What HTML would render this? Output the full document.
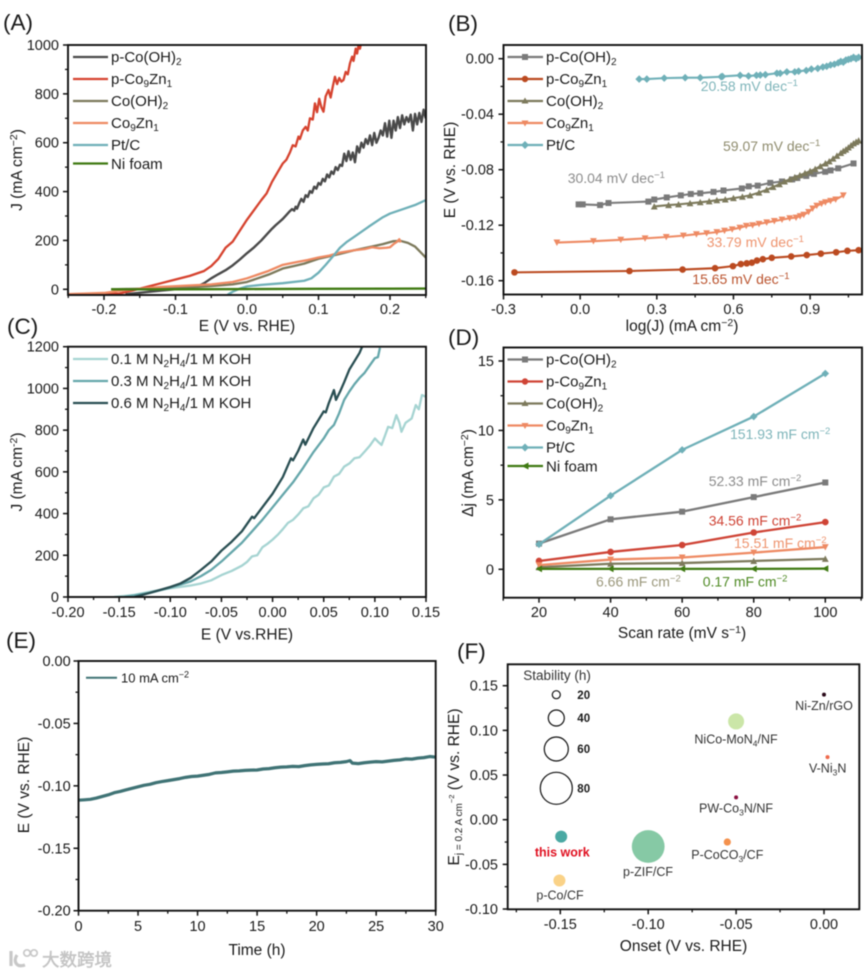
<!DOCTYPE html>
<html lang="en">
<head>
<meta charset="utf-8">
<title>Electrochemical performance panels</title>
<style>
html,body{margin:0;padding:0;background:#fff;width:865px;height:975px;overflow:hidden}
svg{display:block;filter:blur(.4px)}
text{font-family:"Liberation Sans","Noto Sans CJK SC",sans-serif;fill:#1a1a1a}
.tick{font-size:14.5px}
.title{font-size:15.5px}
.leg{font-size:15px}
.panel{font-size:22.5px}
.note{font-size:14px}
.fl{font-size:12.5px;fill:#333;text-anchor:middle}
</style>
</head>
<body>
<svg id="figure" xmlns="http://www.w3.org/2000/svg" width="865" height="975" viewBox="0 0 865 975">
<rect width="865" height="975" fill="#fff"/>
<defs>
<clipPath id="clipA"><rect x="68" y="45" width="358" height="250"/></clipPath>
<clipPath id="clipB"><rect x="503.5" y="45" width="358.5" height="249.5"/></clipPath>
<clipPath id="clipC"><rect x="68" y="346.5" width="358" height="250.5"/></clipPath>
<clipPath id="clipD"><rect x="503.5" y="347.5" width="358.5" height="250"/></clipPath>
<clipPath id="clipE"><rect x="78.5" y="661" width="357" height="249.5"/></clipPath>
<clipPath id="clipF"><rect x="507.5" y="664.5" width="352" height="245"/></clipPath>
</defs>

<text class="panel" x="3" y="30">(A)</text>
<text class="panel" x="448" y="31">(B)</text>
<text class="panel" x="7" y="334">(C)</text>
<text class="panel" x="448" y="345">(D)</text>
<text class="panel" x="6" y="648">(E)</text>
<text class="panel" x="457" y="659">(F)</text>

<!-- Panel A -->
<g id="panelA"></g>
<text class="title" x="247" y="331" text-anchor="middle">E (V vs. RHE)</text>
<text class="title" transform="translate(22,170) rotate(-90)" text-anchor="middle">J (mA cm<tspan dy="-5" font-size="10.5">−2</tspan><tspan dy="5">)</tspan></text>
<g>
<line x1="73" x2="108" y1="57" y2="57" stroke="#4a4a4a" stroke-width="2.2"/>
<text class="leg" x="111" y="62">p-Co(OH)<tspan dy="3" font-size="10">2</tspan></text>
<line x1="73" x2="108" y1="79" y2="79" stroke="#d6432f" stroke-width="2.2"/>
<text class="leg" x="111" y="84">p-Co<tspan dy="3" font-size="10">9</tspan><tspan dy="-3">Zn</tspan><tspan dy="3" font-size="10">1</tspan></text>
<line x1="73" x2="108" y1="101" y2="101" stroke="#7d7a5c" stroke-width="2.2"/>
<text class="leg" x="111" y="106">Co(OH)<tspan dy="3" font-size="10">2</tspan></text>
<line x1="73" x2="108" y1="123" y2="123" stroke="#ee8a63" stroke-width="2.2"/>
<text class="leg" x="111" y="128">Co<tspan dy="3" font-size="10">9</tspan><tspan dy="-3">Zn</tspan><tspan dy="3" font-size="10">1</tspan></text>
<line x1="73" x2="108" y1="145" y2="145" stroke="#6fb0b8" stroke-width="2.2"/>
<text class="leg" x="111" y="150">Pt/C</text>
<line x1="73" x2="108" y1="163.5" y2="163.5" stroke="#3f7a12" stroke-width="2.2"/>
<text class="leg" x="111" y="169">Ni foam</text>
</g>

<!-- Panel B -->
<g id="panelB"></g>
<text class="title" x="682" y="331" text-anchor="middle">log(J) (mA cm<tspan dy="-5" font-size="10.5">−2</tspan><tspan dy="5">)</tspan></text>
<text class="title" transform="translate(455,170) rotate(-90)" text-anchor="middle">E (V vs. RHE)</text>
<g>
<line x1="507.5" x2="543" y1="57" y2="57" stroke="#7a7a7a" stroke-width="2.2"/>
<rect x="522" y="54" width="6" height="6" fill="#7a7a7a"/>
<text class="leg" x="546" y="62">p-Co(OH)<tspan dy="3" font-size="10">2</tspan></text>
<line x1="507.5" x2="543" y1="79" y2="79" stroke="#bb4a20" stroke-width="2.2"/>
<circle cx="525" cy="79" r="3.2" fill="#bb4a20"/>
<text class="leg" x="546" y="84">p-Co<tspan dy="3" font-size="10">9</tspan><tspan dy="-3">Zn</tspan><tspan dy="3" font-size="10">1</tspan></text>
<line x1="507.5" x2="543" y1="101" y2="101" stroke="#7d7a5c" stroke-width="2.2"/>
<path d="M525 97.5L528.5 103.5H521.5Z" fill="#7d7a5c"/>
<text class="leg" x="546" y="106">Co(OH)<tspan dy="3" font-size="10">2</tspan></text>
<line x1="507.5" x2="543" y1="123" y2="123" stroke="#ee8a63" stroke-width="2.2"/>
<path d="M525 126.5L528.5 120.5H521.5Z" fill="#ee8a63"/>
<text class="leg" x="546" y="128">Co<tspan dy="3" font-size="10">9</tspan><tspan dy="-3">Zn</tspan><tspan dy="3" font-size="10">1</tspan></text>
<line x1="507.5" x2="543" y1="145" y2="145" stroke="#6fb0b8" stroke-width="2.2"/>
<path d="M525 141L529 145L525 149L521 145Z" fill="#6fb0b8"/>
<text class="leg" x="546" y="150">Pt/C</text>
</g>
<text class="note" style="fill:#7fb5ba" x="700.7" y="91">20.58 mV dec<tspan dy="-5" font-size="9.5" style="fill:#7fb5ba">−1</tspan></text>
<text class="note" style="fill:#8f8c6e" x="723" y="151">59.07 mV dec<tspan dy="-5" font-size="9.5" style="fill:#8f8c6e">−1</tspan></text>
<text class="note" style="fill:#8c8c8c" x="567.7" y="183">30.04 mV dec<tspan dy="-5" font-size="9.5" style="fill:#8c8c8c">−1</tspan></text>
<text class="note" style="fill:#ee946f" x="706.7" y="247">33.79 mV dec<tspan dy="-5" font-size="9.5" style="fill:#ee946f">−1</tspan></text>
<text class="note" style="fill:#bb5530" x="692.3" y="284">15.65 mV dec<tspan dy="-5" font-size="9.5" style="fill:#bb5530">−1</tspan></text>

<!-- Panel C -->
<g id="panelC"></g>
<text class="title" x="247" y="639.5" text-anchor="middle">E (V vs.RHE)</text>
<text class="title" transform="translate(22,472) rotate(-90)" text-anchor="middle">J (mA cm<tspan dy="-5" font-size="10.5">-2</tspan><tspan dy="5">)</tspan></text>
<g>
<line x1="73" x2="108" y1="359" y2="359" stroke="#a6d4d2" stroke-width="2.2"/>
<text class="leg" x="111" y="364">0.1 M N<tspan dy="3" font-size="10">2</tspan><tspan dy="-3">H</tspan><tspan dy="3" font-size="10">4</tspan><tspan dy="-3">/1 M KOH</tspan></text>
<line x1="73" x2="108" y1="381" y2="381" stroke="#66a7ab" stroke-width="2.2"/>
<text class="leg" x="111" y="386">0.3 M N<tspan dy="3" font-size="10">2</tspan><tspan dy="-3">H</tspan><tspan dy="3" font-size="10">4</tspan><tspan dy="-3">/1 M KOH</tspan></text>
<line x1="73" x2="108" y1="403" y2="403" stroke="#2a4f53" stroke-width="2.2"/>
<text class="leg" x="111" y="408">0.6 M N<tspan dy="3" font-size="10">2</tspan><tspan dy="-3">H</tspan><tspan dy="3" font-size="10">4</tspan><tspan dy="-3">/1 M KOH</tspan></text>
</g>

<!-- Panel D -->
<g id="panelD"></g>
<text class="title" x="682" y="638" text-anchor="middle">Scan rate (mV s<tspan dy="-5" font-size="10.5">−1</tspan><tspan dy="5">)</tspan></text>
<text class="title" transform="translate(473,473) rotate(-90)" text-anchor="middle">Δj (mA cm<tspan dy="-5" font-size="10.5">−2</tspan><tspan dy="5">)</tspan></text>
<g>
<line x1="507.5" x2="543" y1="359.5" y2="359.5" stroke="#7a7a7a" stroke-width="2.2"/>
<rect x="522" y="356.5" width="6" height="6" fill="#7a7a7a"/>
<text class="leg" x="546" y="364.5">p-Co(OH)<tspan dy="3" font-size="10">2</tspan></text>
<line x1="507.5" x2="543" y1="381.5" y2="381.5" stroke="#cf4436" stroke-width="2.2"/>
<circle cx="525" cy="381.5" r="3.2" fill="#cf4436"/>
<text class="leg" x="546" y="386.5">p-Co<tspan dy="3" font-size="10">9</tspan><tspan dy="-3">Zn</tspan><tspan dy="3" font-size="10">1</tspan></text>
<line x1="507.5" x2="543" y1="403.5" y2="403.5" stroke="#7d7a5c" stroke-width="2.2"/>
<path d="M525 400L528.5 406H521.5Z" fill="#7d7a5c"/>
<text class="leg" x="546" y="408.5">Co(OH)<tspan dy="3" font-size="10">2</tspan></text>
<line x1="507.5" x2="543" y1="425.5" y2="425.5" stroke="#ee8a63" stroke-width="2.2"/>
<path d="M525 429L528.5 423H521.5Z" fill="#ee8a63"/>
<text class="leg" x="546" y="430.5">Co<tspan dy="3" font-size="10">9</tspan><tspan dy="-3">Zn</tspan><tspan dy="3" font-size="10">1</tspan></text>
<line x1="507.5" x2="543" y1="447.5" y2="447.5" stroke="#6fb0b8" stroke-width="2.2"/>
<path d="M525 443.5L529 447.5L525 451.5L521 447.5Z" fill="#6fb0b8"/>
<text class="leg" x="546" y="452.5">Pt/C</text>
<line x1="507.5" x2="543" y1="466" y2="466" stroke="#3f7a12" stroke-width="2.2"/>
<path d="M521.5 466L528.5 462.5V469.5Z" fill="#3f7a12"/>
<text class="leg" x="546" y="471.5">Ni foam</text>
</g>
<text class="note" style="fill:#7fb5ba" x="730" y="439">151.93 mF cm<tspan dy="-5" font-size="9.5" style="fill:#7fb5ba">−2</tspan></text>
<text class="note" style="fill:#8c8c8c" x="708.7" y="486">52.33 mF cm<tspan dy="-5" font-size="9.5" style="fill:#8c8c8c">−2</tspan></text>
<text class="note" style="fill:#cf4436" x="708.7" y="525.7">34.56 mF cm<tspan dy="-5" font-size="9.5" style="fill:#cf4436">−2</tspan></text>
<text class="note" style="fill:#ee946f" x="734" y="548">15.51 mF cm<tspan dy="-5" font-size="9.5" style="fill:#ee946f">−2</tspan></text>
<text class="note" style="fill:#9b987c" x="596" y="586.7">6.66 mF cm<tspan dy="-5" font-size="9.5" style="fill:#9b987c">−2</tspan></text>
<text class="note" style="fill:#4f8a24" x="702.7" y="586.7">0.17 mF cm<tspan dy="-5" font-size="9.5" style="fill:#4f8a24">−2</tspan></text>

<!-- Panel E -->
<g id="panelE"></g>
<text class="title" x="257" y="955" text-anchor="middle">Time (h)</text>
<text class="title" transform="translate(29,785) rotate(-90)" text-anchor="middle">E (V vs. RHE)</text>
<line x1="86" x2="117" y1="677.7" y2="677.7" stroke="#3f7375" stroke-width="2"/>
<text x="121" y="682.5" font-size="13">10 mA cm<tspan dy="-5" font-size="9">−2</tspan></text>

<!-- Panel F -->
<g id="panelF"></g>
<text class="title" x="683.5" y="951" text-anchor="middle">Onset (V vs. RHE)</text>
<text class="title" transform="translate(459,787) rotate(-90)" text-anchor="middle" font-size="16">E<tspan dy="3" font-size="10">j = 0.2 A cm</tspan><tspan dy="-8" font-size="7.5">−2</tspan><tspan dy="5"> (V vs. RHE)</tspan></text>
<g>
<text x="523.3" y="680" font-size="13.5" style="fill:#333">Stability (h)</text>
<circle cx="556.3" cy="694.7" r="4" fill="none" stroke="#111" stroke-width="1.2"/>
<circle cx="556.3" cy="718" r="8" fill="none" stroke="#111" stroke-width="1.2"/>
<circle cx="556.3" cy="749" r="12" fill="none" stroke="#111" stroke-width="1.2"/>
<circle cx="556.3" cy="788.3" r="16" fill="none" stroke="#111" stroke-width="1.2"/>
<text x="577.3" y="699" font-size="11.5" font-weight="bold">20</text>
<text x="577.3" y="722" font-size="11.5" font-weight="bold">40</text>
<text x="577.3" y="753" font-size="11.5" font-weight="bold">60</text>
<text x="577.3" y="792.5" font-size="11.5" font-weight="bold">80</text>
</g>
<text class="fl" x="824" y="710">Ni-Zn/rGO</text>
<text class="fl" x="736" y="743.3">NiCo-MoN<tspan dy="3" font-size="8.5" style="fill:#333">4</tspan><tspan dy="-3" style="fill:#333">/NF</tspan></text>
<text class="fl" x="827.7" y="772.3">V-Ni<tspan dy="3" font-size="8.5" style="fill:#333">3</tspan><tspan dy="-3" style="fill:#333">N</tspan></text>
<text class="fl" x="736" y="812.7">PW-Co<tspan dy="3" font-size="8.5" style="fill:#333">3</tspan><tspan dy="-3" style="fill:#333">N/NF</tspan></text>
<text class="fl" x="562.3" y="856.7" font-weight="bold" style="fill:#e01020">this work</text>
<text class="fl" x="727.3" y="859">P-CoCO<tspan dy="3" font-size="8.5" style="fill:#333">3</tspan><tspan dy="-3" style="fill:#333">/CF</tspan></text>
<text class="fl" x="648" y="876">p-ZIF/CF</text>
<text class="fl" x="560" y="899.7">p-Co/CF</text>

<!-- Watermark -->
<g>
<path d="M11 951V966M17 955C13 961 16 968 25 965" fill="none" stroke="#c8c8c8" stroke-width="3.2"/>
<circle cx="27" cy="953" r="3.2" fill="none" stroke="#c8c8c8" stroke-width="1.7"/>
<circle cx="34" cy="953" r="3.2" fill="none" stroke="#c8c8c8" stroke-width="1.7"/>
<text x="42" y="966" font-size="17.5" style="fill:#c4c4c4;stroke:#c4c4c4;stroke-width:.5px">大数跨境</text>
</g>

<script>
// ---------- Panel A data ----------
const aXTicks = [-0.2, -0.1, 0.0, 0.1, 0.2];
const aXTickLabels = ['-0.2', '-0.1', '0.0', '0.1', '0.2'];
const aXMinor = [-0.25, -0.15, -0.05, 0.05, 0.15, 0.25];
const aYTicks = [0, 200, 400, 600, 800, 1000];
const aYTickLabels = ['0', '200', '400', '600', '800', '1000'];
const aYMinor = [100, 300, 500, 700, 900];

const aPCoOHx = [-0.17,-0.12,-0.09,-0.07,-0.06,-0.05,-0.04,-0.03,-0.02,-0.01,0,0.01,0.02,0.03,0.035,0.04,0.045,0.05,0.055,
  .06,.063,.066,.068,.07,.073,.076,.079,.082,.085,.088,.091,.094,.097,.1,.103,.106,.109,.112,.115,.118,.121,.124,.127,.13,.133,.136,.139,.142,.145,.148,.151,.154,.157,.16,.163,.166,.169,.172,.175,.178,.181,.184,.187,.19,.193,.196,.199,.202,.205,.208,.211,.214,.217,.22,.223,.226,.229,.232,.235,.238,.241,.244,.247,.25];
const aPCoOHy = [-20,-5,3,10,25,45,62,78,98,122,148,172,200,232,248,262,275,288,304,
  320,328,322,338,330,352,370,358,385,378,402,395,420,412,435,428,452,442,470,458,482,472,500,488,510,505,555,525,565,530,560,520,585,560,600,580,615,595,630,590,640,600,620,650,630,680,625,690,620,690,650,705,660,712,675,705,685,715,650,718,675,722,685,735,700];
const aPCoZnx = [-.25,-.18,-.16,-.14,-.12,-.1,-.08,-.06,-.05,-.04,-.03,-.02,-.01,0,.01,.02,.0275,.035,.04,.045,.05,.055,.06,.064,.068,.072,.074,.078,.082,.085,.088,.092,.095,.098,.101,.104,.107,.11,.114,.117,.12,.123,.126,.129,.132,.135,.138,.141,.144,.147,.149,.152,.154,.156,.158,.16];
const aPCoZny = [-20,-18,-5,10,25,40,55,75,95,125,170,195,240,285,325,365,393,440,465,490,515,530,560,590,585,625,615,650,665,650,700,695,761,725,780,745,727,790,816,785,830,870,840,865,850,857,890,880,925,952,935,985,965,1000,985,1015];
const aCoOHx = [-.19,-.1,-.05,-.02,0,.015,.03,.05,.065,.08,.1,.115,.13,.15,.17,.19,.205,.215,.225,.235,.24,.245,.25];
const aCoOHy = [0,5,13,20,30,45,60,85,95,105,125,135,145,160,172,185,197,198,190,175,160,145,130];
const aCoZnx = [-.25,-.2,-.17,-.12,-.05,-.02,0,.015,.03,.05,.07,.085,.1,.115,.13,.15,.165,.175,.185,.195,.2,.205,.21,.213,.215];
const aCoZny = [-20,-15,-3,10,20,30,45,60,75,100,112,120,130,138,150,160,165,172,168,170,172,185,195,205,192];
const aPtCx = [-.027,-.02,-.01,0,.02,.05,.08,.09,.1,.11,.12,.13,.14,.15,.17,.19,.2,.22,.235,.25];
const aPtCy = [-22,-10,3,12,18,25,35,45,68,100,134,170,195,215,256,295,310,330,345,365];
const aNix = [-.19,-.1,0,.1,.2,.25];
const aNiy = [0,0,1,2,2.5,3];

// ---------- Panel B data ----------
const bXTicks = [-0.3, 0.0, 0.3, 0.6, 0.9];
const bXTickLabels = ['-0.3', '0.0', '0.3', '0.6', '0.9'];
const bXMinor = [-0.15, 0.15, 0.45, 0.75, 1.05];
const bYTicks = [0, -0.04, -0.08, -0.12, -0.16];
const bYTickLabels = ['0.00', '-0.04', '-0.08', '-0.12', '-0.16'];
const bYMinor = [-0.02, -0.06, -0.1, -0.14];

const bPCoOHx = [-.006,.01,.078,.111,.267,.29,.339,.394,.433,.47,.522,.561,.633,.66,.695,.744,.79,.83,.85,.885,.915,.959,.98,1.01,1.07];
const bPCoOHy = [-.105,-.105,-.1055,-.104,-.103,-.1015,-.1,-.0985,-.0975,-.097,-.096,-.095,-.0935,-.092,-.0915,-.0895,-.0885,-.087,-.086,-.0845,-.083,-.0815,-.0805,-.079,-.0755];
const bPCoZnx = [-.257,.193,.401,.528,.598,.629,.652,.672,.692,.715,.75,.826,.887,.942,1.002,1.046,1.09];
const bPCoZny = [-.154,-.153,-.152,-.151,-.1495,-.148,-.1475,-.147,-.1455,-.1445,-.1435,-.1425,-.1415,-.1405,-.1395,-.1385,-.138];
const bCoOHx = [.29,.346,.385,.43,.47,.505,.535,.568,.6,.635,.665,.7,.73,.755,.78,.8,.82,.84,.86,.88,.9,.92,.94,.96,.975,.99,1.005,1.02,1.03,1.04,1.05,1.06,1.07,1.08,1.09];
const bCoOHy = [-.1065,-.1055,-.105,-.1042,-.1035,-.1028,-.102,-.1015,-.1005,-.0995,-.0985,-.0965,-.0945,-.0925,-.0905,-.0885,-.087,-.0855,-.084,-.0825,-.081,-.0795,-.0775,-.0755,-.074,-.072,-.07,-.068,-.0665,-.0655,-.064,-.0625,-.061,-.06,-.059];
const bCoZnx = [-.091,.052,.159,.254,.337,.404,.455,.495,.535,.565,.595,.625,.65,.675,.7,.73,.76,.79,.82,.845,.861,.875,.894,.91,.926,.945,.96,.98,1,1.03];
const bCoZny = [-.1325,-.1315,-.1305,-.1295,-.1285,-.1275,-.1265,-.1258,-.125,-.124,-.123,-.1218,-.1205,-.12,-.119,-.118,-.117,-.116,-.115,-.1145,-.1135,-.1125,-.1105,-.108,-.106,-.1045,-.1035,-.1025,-.1015,-.0985];
const bPtCx = [.231,.261,.329,.411,.47,.552,.557,.626,.659,.69,.705,.725,.77,.783,.809,.84,.855,.885,.905,.93,.95,.965,.98,.995,1.01,1.02,1.03,1.04,1.05,1.06,1.07,1.08,1.09];
const bPtCy = [-.0147,-.0147,-.014,-.0137,-.0137,-.013,-.0128,-.012,-.0125,-.012,-.0118,-.0115,-.0105,-.0105,-.0095,-.0095,-.009,-.0085,-.0075,-.007,-.006,-.0055,-.0045,-.004,-.003,-.002,-.0025,-.001,-.0005,0,.001,0,.001];

// ---------- Panel C data ----------
const cXTicks = [-0.2, -0.15, -0.1, -0.05, 0, 0.05, 0.1, 0.15];
const cXTickLabels = ['-0.20', '-0.15', '-0.10', '-0.05', '0.00', '0.05', '0.10', '0.15'];
const cXMinor = [-0.175, -0.125, -0.075, -0.025, 0.025, 0.075, 0.125];
const cYTicks = [0, 200, 400, 600, 800, 1000, 1200];
const cYTickLabels = ['0', '200', '400', '600', '800', '1000', '1200'];
const cYMinor = [100, 300, 500, 700, 900, 1100];

const c01x = [-.155,-.135,-.12,-.1,-.08,-.07,-.06,-.05,-.04,-.03,-.025,-.02,-.015,-.01,-.005,0,.005,.01,.015,.02,.025,.03,.035,.04,.045,.05,.055,.06,.065,.07,.075,.08,.085,.09,.095,.1,.103,.1065,.11,.113,.117,.121,.124,.126,.13,.136,.14,.143,.146,.15];
const c01y = [0,10,25,42,55,65,80,105,125,150,168,195,200,238,255,275,298,325,355,370,395,425,435,473,490,525,535,577,590,625,640,665,670,697,725,760,745,729,775,816,810,872,835,792,835,856,920,900,968,960];
const c03x = [-.145,-.12,-.1,-.08,-.07,-.06,-.05,-.04,-.03,-.02,-.01,0,.01,.02,.03,.04,.05,.055,.06,.065,.07,.075,.08,.085,.09,.095,.1,.103,.105];
const c03y = [0,20,45,75,100,130,170,215,260,315,370,430,490,550,620,695,760,800,825,880,945,985,1020,1050,1075,1110,1145,1150,1195];
const c06x = [-.135,-.12,-.1,-.09,-.08,-.07,-.06,-.05,-.04,-.03,-.02,-.018,-.01,0,.01,.018,.02,.025,.03,.032,.04,.05,.052,.055,.06,.062,.066,.07,.075,.08,.085,.088];
const c06y = [0,20,48,65,92,130,170,222,265,315,385,378,430,495,575,665,655,700,755,730,810,890,885,930,992,945,985,1030,1090,1130,1170,1205];

// ---------- Panel D data ----------
const dXTicks = [20, 40, 60, 80, 100];
const dXTickLabels = ['20', '40', '60', '80', '100'];
const dXMinor = [10, 30, 50, 70, 90, 110];
const dYTicks = [0, 5, 10, 15];
const dYTickLabels = ['0', '5', '10', '15'];
const dYMinor = [2.5, 7.5, 12.5];
const dScanRates = [20, 40, 60, 80, 100];
const dPCoOH = [1.85, 3.6, 4.15, 5.2, 6.25];
const dPCoZn = [0.6, 1.25, 1.75, 2.65, 3.4];
const dCoOH = [0.15, 0.4, 0.45, 0.6, 0.75];
const dCoZn = [0.3, 0.7, 0.85, 1.2, 1.6];
const dPtC = [1.8, 5.3, 8.6, 11, 14.1];
const dNi = [0.03, 0.03, 0.03, 0.03, 0.05];

// ---------- Panel E data ----------
const eXTicks = [0, 5, 10, 15, 20, 25, 30];
const eXTickLabels = ['0', '5', '10', '15', '20', '25', '30'];
const eXMinor = [2.5, 7.5, 12.5, 17.5, 22.5, 27.5];
const eYTicks = [0, -0.05, -0.1, -0.15, -0.2];
const eYTickLabels = ['0.00', '-0.05', '-0.10', '-0.15', '-0.20'];
const eYMinor = [-0.025, -0.075, -0.125, -0.175];
const eTime = [0,.5,1,1.5,2,2.5,3,3.5,4,4.5,5,5.5,6,6.5,7,7.5,8,8.5,9,9.5,10,10.5,11,11.5,12,12.5,13,13.5,14,14.5,15,15.5,16,16.5,17,17.5,18,18.5,19,19.5,20,20.5,21,21.5,22,22.5,22.8,23,23.5,24,24.5,25,25.5,26,26.5,27,27.5,28,28.5,29,29.5,30];
const ePotential = [-.1115,-.1112,-.1108,-.1098,-.1085,-.1072,-.1055,-.1045,-.1032,-.102,-.1008,-.0996,-.0988,-.0975,-.0966,-.0958,-.095,-.0942,-.0932,-.0925,-.0922,-.0915,-.0908,-.0896,-.0893,-.0888,-.0882,-.088,-.0876,-.0874,-.0873,-.0865,-.0862,-.0855,-.085,-.0848,-.0844,-.0846,-.0838,-.0832,-.0828,-.0825,-.0823,-.0815,-.0812,-.0806,-.0798,-.0818,-.0822,-.0815,-.081,-.0806,-.0808,-.0802,-.0796,-.0792,-.0784,-.0786,-.0778,-.0774,-.0765,-.077];

// ---------- Panel F data ----------
const fXTicks = [-0.15, -0.1, -0.05, 0];
const fXTickLabels = ['-0.15', '-0.10', '-0.05', '0.00'];
const fXMinor = [-0.175, -0.125, -0.075, -0.025];
const fYTicks = [0.15, 0.1, 0.05, 0, -0.05, -0.1];
const fYTickLabels = ['0.15', '0.10', '0.05', '0.00', '-0.05', '-0.10'];
const fYMinor = [0.125, 0.075, 0.025, -0.025, -0.075];
const fCatalysts = ['this-work', 'p-co-cf', 'p-zif-cf', 'p-coco3-cf', 'nico-mon4-nf', 'pw-co3n-nf', 'ni-zn-rgo', 'v-ni3n'];
const fOnset = [-0.1495, -0.1505, -0.1, -0.055, -0.05, -0.05, 0, 0.002];
const fOverpotential = [-0.019, -0.068, -0.03, -0.025, 0.11, 0.025, 0.14, 0.07];
const fStability = [30, 30, 82, 18, 40, 10, 10, 10];
const fColors = ['#4aa9a3', '#fad287', '#86c9a5', '#f4914d', '#cbe6a8', '#8a1040', '#2a0a1a', '#ef6a4c'];

// ---------- Drawing helpers ----------
const NS = 'http://www.w3.org/2000/svg';
function mk(tag, parent, attrs) {
  const el = document.createElementNS(NS, tag);
  for (const k in attrs) el.setAttribute(k, attrs[k]);
  parent.appendChild(el);
  return el;
}
function scale(d0, d1, r0, r1) {
  return v => r0 + (v - d0) * (r1 - r0) / (d1 - d0);
}
function drawFrame(g, box, sx, sy, xt, xl, xm, yt, yl, ym, xLabelY, yLabelX) {
  xt.forEach((v, i) => {
    const tick = mk('line', g, {x1: sx(v), x2: sx(v), y1: box.b, y2: box.b + 5, stroke: '#111', 'stroke-width': 1.5});
    
    
    const label = mk('text', g, {x: sx(v), y: xLabelY, 'text-anchor': 'middle', class: 'tick'});
    label.textContent = xl[i];
    
    
  });
  xm.forEach(v => {
    const tick = mk('line', g, {x1: sx(v), x2: sx(v), y1: box.b, y2: box.b + 3, stroke: '#111', 'stroke-width': 1.3});
    
    
  });
  yt.forEach((v, i) => {
    const tick = mk('line', g, {x1: box.l - 5, x2: box.l, y1: sy(v), y2: sy(v), stroke: '#111', 'stroke-width': 1.5});
    
    
    const label = mk('text', g, {x: yLabelX, y: sy(v) + 5, 'text-anchor': 'end', class: 'tick'});
    label.textContent = yl[i];
    
    
  });
  ym.forEach(v => {
    const tick = mk('line', g, {x1: box.l - 3, x2: box.l, y1: sy(v), y2: sy(v), stroke: '#111', 'stroke-width': 1.3});
    
    
  });
}
function drawBorder(g, box) {
  const frame = mk('rect', g, {x: box.l, y: box.t, width: box.r - box.l, height: box.b - box.t, fill: 'none', stroke: '#111', 'stroke-width': 1.9});
  
  
}
function drawLine(g, xs, ys, sx, sy, color, width, name, clip) {
  let d = '';
  xs.forEach((v, i) => {
    if (ys[i] === undefined) return;
    d += (d ? 'L' : 'M') + sx(v).toFixed(2) + ' ' + sy(ys[i]).toFixed(2);
  });
  const path = mk('path', g, {d: d, fill: 'none', stroke: color, 'stroke-width': width, 'stroke-linejoin': 'round', 'clip-path': 'url(#' + clip + ')'});
  
  
}
function markerPath(shape, x, y, r) {
  if (shape === 'square') return `M${x-r} ${y-r}H${x+r}V${y+r}H${x-r}Z`;
  if (shape === 'up') return `M${x} ${y-r-0.4}L${x+r+0.4} ${y+r}H${x-r-0.4}Z`;
  if (shape === 'down') return `M${x} ${y+r+0.4}L${x+r+0.4} ${y-r}H${x-r-0.4}Z`;
  if (shape === 'diamond') return `M${x} ${y-r-0.8}L${x+r+0.8} ${y}L${x} ${y+r+0.8}L${x-r-0.8} ${y}Z`;
  if (shape === 'left') return `M${x-r-0.4} ${y}L${x+r} ${y-r-0.4}V${y+r+0.4}Z`;
  return `M${x-r} ${y}A${r} ${r} 0 1 0 ${x+r} ${y}A${r} ${r} 0 1 0 ${x-r} ${y}Z`;
}
function drawMarkers(g, xs, ys, sx, sy, color, shape, r, name, clip) {
  xs.forEach((v, i) => {
    if (ys[i] === undefined) return;
    const m = mk('path', g, {d: markerPath(shape, sx(v), sy(ys[i]), r), fill: color, 'clip-path': 'url(#' + clip + ')'});
    
    
  });
}

// ---------- Panel A ----------
(function () {
  const g = document.getElementById('panelA');
  const box = {l: 68, r: 426, t: 45, b: 295};
  const sx = scale(-0.25, 0.25, 68.25, 425.75);
  const sy = scale(0, 1000, 289.3, 45);
  drawFrame(g, box, sx, sy, aXTicks, aXTickLabels, aXMinor, aYTicks, aYTickLabels, aYMinor, 314, 59);
  drawLine(g, aPCoOHx, aPCoOHy, sx, sy, '#4a4a4a', 2.4, 'series-p-co-oh2', 'clipA');
  drawLine(g, aPCoZnx, aPCoZny, sx, sy, '#d6432f', 2.3, 'series-p-co9zn1', 'clipA');
  drawLine(g, aCoOHx, aCoOHy, sx, sy, '#7d7a5c', 2.3, 'series-co-oh2', 'clipA');
  drawLine(g, aCoZnx, aCoZny, sx, sy, '#ee8a63', 2.3, 'series-co9zn1', 'clipA');
  drawLine(g, aPtCx, aPtCy, sx, sy, '#6fb0b8', 2.3, 'series-pt-c', 'clipA');
  drawLine(g, aNix, aNiy, sx, sy, '#3f7a12', 2.3, 'series-ni-foam', 'clipA');
  drawBorder(g, box);
})();

// ---------- Panel B ----------
(function () {
  const g = document.getElementById('panelB');
  const box = {l: 503.5, r: 862, t: 45, b: 294.5};
  const sx = scale(-0.3, 1.1, 503.5, 861.2);
  const sy = scale(0, -0.16, 58.7, 280.7);
  drawFrame(g, box, sx, sy, bXTicks, bXTickLabels, bXMinor, bYTicks, bYTickLabels, bYMinor, 314, 494);
  drawLine(g, bPCoOHx, bPCoOHy, sx, sy, '#7a7a7a', 2.1, 'series-p-co-oh2', 'clipB');
  drawMarkers(g, bPCoOHx, bPCoOHy, sx, sy, '#7a7a7a', 'square', 3, 'point-p-co-oh2', 'clipB');
  drawLine(g, bPCoZnx, bPCoZny, sx, sy, '#bb4a20', 2.1, 'series-p-co9zn1', 'clipB');
  drawMarkers(g, bPCoZnx, bPCoZny, sx, sy, '#bb4a20', 'circle', 3.3, 'point-p-co9zn1', 'clipB');
  drawLine(g, bCoOHx, bCoOHy, sx, sy, '#7d7a5c', 2.1, 'series-co-oh2', 'clipB');
  drawMarkers(g, bCoOHx, bCoOHy, sx, sy, '#7d7a5c', 'up', 3, 'point-co-oh2', 'clipB');
  drawLine(g, bCoZnx, bCoZny, sx, sy, '#ee8a63', 2.1, 'series-co9zn1', 'clipB');
  drawMarkers(g, bCoZnx, bCoZny, sx, sy, '#ee8a63', 'down', 3, 'point-co9zn1', 'clipB');
  drawLine(g, bPtCx, bPtCy, sx, sy, '#6fb0b8', 2.1, 'series-pt-c', 'clipB');
  drawMarkers(g, bPtCx, bPtCy, sx, sy, '#6fb0b8', 'diamond', 3, 'point-pt-c', 'clipB');
  drawBorder(g, box);
})();

// ---------- Panel C ----------
(function () {
  const g = document.getElementById('panelC');
  const box = {l: 68, r: 426, t: 346.7, b: 597};
  const sx = scale(-0.2, 0.15, 68, 426);
  const sy = scale(0, 1200, 597, 346.7);
  drawFrame(g, box, sx, sy, cXTicks, cXTickLabels, cXMinor, cYTicks, cYTickLabels, cYMinor, 617, 59);
  drawLine(g, c01x, c01y, sx, sy, '#a6d4d2', 2.3, 'series-01m', 'clipC');
  drawLine(g, c03x, c03y, sx, sy, '#66a7ab', 2.3, 'series-03m', 'clipC');
  drawLine(g, c06x, c06y, sx, sy, '#2a4f53', 2.3, 'series-06m', 'clipC');
  drawBorder(g, box);
})();

// ---------- Panel D ----------
(function () {
  const g = document.getElementById('panelD');
  const box = {l: 503.5, r: 862, t: 347.5, b: 597.7};
  const sx = scale(20, 100, 539, 825.3);
  const sy = scale(0, 15, 569.3, 361);
  drawFrame(g, box, sx, sy, dXTicks, dXTickLabels, dXMinor, dYTicks, dYTickLabels, dYMinor, 617, 494);
  drawLine(g, dScanRates, dPCoOH, sx, sy, '#7a7a7a', 2.3, 'series-p-co-oh2', 'clipD');
  drawMarkers(g, dScanRates, dPCoOH, sx, sy, '#7a7a7a', 'square', 3, 'point-p-co-oh2', 'clipD');
  drawLine(g, dScanRates, dPCoZn, sx, sy, '#cf4436', 2.3, 'series-p-co9zn1', 'clipD');
  drawMarkers(g, dScanRates, dPCoZn, sx, sy, '#cf4436', 'circle', 3.3, 'point-p-co9zn1', 'clipD');
  drawLine(g, dScanRates, dCoOH, sx, sy, '#7d7a5c', 2.3, 'series-co-oh2', 'clipD');
  drawMarkers(g, dScanRates, dCoOH, sx, sy, '#7d7a5c', 'up', 3, 'point-co-oh2', 'clipD');
  drawLine(g, dScanRates, dCoZn, sx, sy, '#ee8a63', 2.3, 'series-co9zn1', 'clipD');
  drawMarkers(g, dScanRates, dCoZn, sx, sy, '#ee8a63', 'down', 3, 'point-co9zn1', 'clipD');
  drawLine(g, dScanRates, dPtC, sx, sy, '#6fb0b8', 2.3, 'series-pt-c', 'clipD');
  drawMarkers(g, dScanRates, dPtC, sx, sy, '#6fb0b8', 'diamond', 3, 'point-pt-c', 'clipD');
  drawLine(g, dScanRates, dNi, sx, sy, '#3f7a12', 2.3, 'series-ni-foam', 'clipD');
  drawMarkers(g, dScanRates, dNi, sx, sy, '#3f7a12', 'left', 3, 'point-ni-foam', 'clipD');
  drawBorder(g, box);
})();

// ---------- Panel E ----------
(function () {
  const g = document.getElementById('panelE');
  const box = {l: 78.5, r: 435.7, t: 661, b: 910.7};
  const sx = scale(0, 30, 78.5, 435.7);
  const sy = scale(0, -0.2, 661, 910.7);
  drawFrame(g, box, sx, sy, eXTicks, eXTickLabels, eXMinor, eYTicks, eYTickLabels, eYMinor, 931, 70.7);
  drawLine(g, eTime, ePotential, sx, sy, '#3f7375', 3.2, 'series-10ma', 'clipE');
  drawBorder(g, box);
})();

// ---------- Panel F ----------
(function () {
  const g = document.getElementById('panelF');
  const box = {l: 507.7, r: 859.3, t: 664.3, b: 909.3};
  const sx = scale(-0.15, 0, 560.3, 824);
  const sy = scale(0, 0.15, 819.7, 685.7);
  drawFrame(g, box, sx, sy, fXTicks, fXTickLabels, fXMinor, fYTicks, fYTickLabels, fYMinor, 929, 498);
  fOnset.forEach((v, i) => {
    const bubble = mk('circle', g, {cx: sx(v), cy: sy(fOverpotential[i]), r: fStability[i] / 5, fill: fColors[i]});
    
    
  });
  drawBorder(g, box);
})();
</script>
</svg>
</body>
</html>
